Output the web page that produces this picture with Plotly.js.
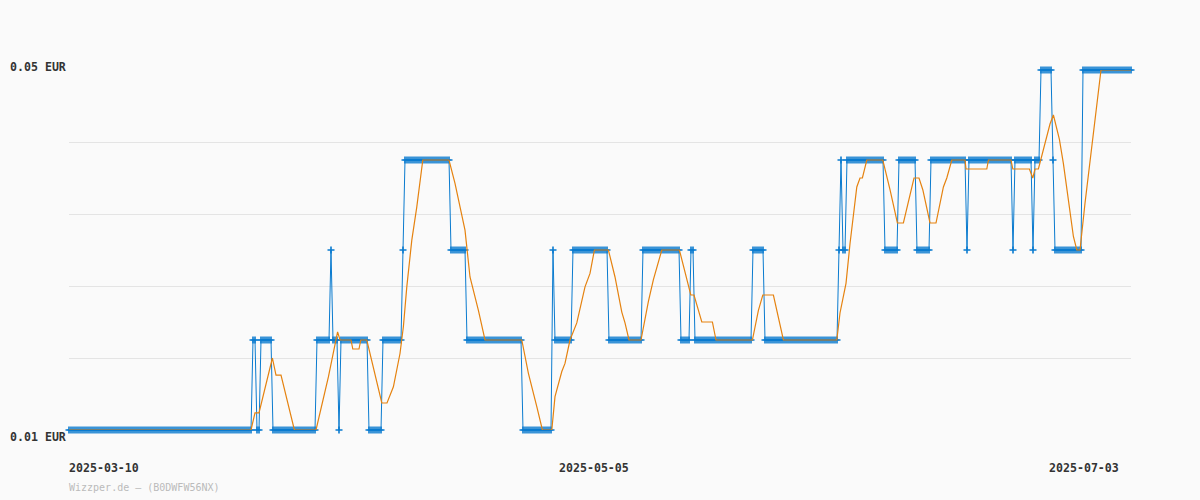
<!DOCTYPE html>
<html>
<head>
<meta charset="utf-8">
<script src="https://cdn.plot.ly/plotly-3.0.1.min.js"></script>
<style>
html,body{margin:0;padding:0;background:#fafafa;}
#chart{width:1200px;height:500px;}
</style>
</head>
<body>
<div id="chart"></div>
<script>
// Blue series: price per sample (EUR), one entry per sample index
const price = [
 // 0-91
 0.01,0.01,0.01,0.01,0.01,0.01,0.01,0.01,0.01,0.01,
 0.01,0.01,0.01,0.01,0.01,0.01,0.01,0.01,0.01,0.01,
 0.01,0.01,0.01,0.01,0.01,0.01,0.01,0.01,0.01,0.01,
 0.01,0.01,0.01,0.01,0.01,0.01,0.01,0.01,0.01,0.01,
 0.01,0.01,0.01,0.01,0.01,0.01,0.01,0.01,0.01,0.01,
 0.01,0.01,0.01,0.01,0.01,0.01,0.01,0.01,0.01,0.01,
 0.01,0.01,0.01,0.01,0.01,0.01,0.01,0.01,0.01,0.01,
 0.01,0.01,0.01,0.01,0.01,0.01,0.01,0.01,0.01,0.01,
 0.01,0.01,0.01,0.01,0.01,0.01,0.01,0.01,0.01,0.01,
 0.01,0.01,
 // 92-93
 0.02,0.02,
 // 94-95
 0.01,0.01,
 // 96-101
 0.02,0.02,0.02,0.02,0.02,0.02,
 // 102-123
 0.01,0.01,0.01,0.01,0.01,0.01,0.01,0.01,0.01,0.01,
 0.01,0.01,0.01,0.01,0.01,0.01,0.01,0.01,0.01,0.01,
 0.01,0.01,
 // 124-130
 0.02,0.02,0.02,0.02,0.02,0.02,0.02,
 // 131
 0.03,
 // 132-134
 0.02,0.02,0.02,
 // 135
 0.01,
 // 136-149
 0.02,0.02,0.02,0.02,0.02,0.02,0.02,0.02,0.02,0.02,
 0.02,0.02,0.02,0.02,
 // 150-156
 0.01,0.01,0.01,0.01,0.01,0.01,0.01,
 // 157-166
 0.02,0.02,0.02,0.02,0.02,0.02,0.02,0.02,0.02,0.02,
 // 167
 0.03,
 // 168-190
 0.04,0.04,0.04,0.04,0.04,0.04,0.04,0.04,0.04,0.04,
 0.04,0.04,0.04,0.04,0.04,0.04,0.04,0.04,0.04,0.04,
 0.04,0.04,0.04,
 // 191-198
 0.03,0.03,0.03,0.03,0.03,0.03,0.03,0.03,
 // 199-226
 0.02,0.02,0.02,0.02,0.02,0.02,0.02,0.02,0.02,0.02,
 0.02,0.02,0.02,0.02,0.02,0.02,0.02,0.02,0.02,0.02,
 0.02,0.02,0.02,0.02,0.02,0.02,0.02,0.02,
 // 227-241
 0.01,0.01,0.01,0.01,0.01,0.01,0.01,0.01,0.01,0.01,
 0.01,0.01,0.01,0.01,0.01,
 // 242
 0.03,
 // 243-251
 0.02,0.02,0.02,0.02,0.02,0.02,0.02,0.02,0.02,
 // 252-269
 0.03,0.03,0.03,0.03,0.03,0.03,0.03,0.03,0.03,0.03,
 0.03,0.03,0.03,0.03,0.03,0.03,0.03,0.03,
 // 270-286
 0.02,0.02,0.02,0.02,0.02,0.02,0.02,0.02,0.02,0.02,
 0.02,0.02,0.02,0.02,0.02,0.02,0.02,
 // 287-305
 0.03,0.03,0.03,0.03,0.03,0.03,0.03,0.03,0.03,0.03,
 0.03,0.03,0.03,0.03,0.03,0.03,0.03,0.03,0.03,
 // 306-310
 0.02,0.02,0.02,0.02,0.02,
 // 311-312
 0.03,0.03,
 // 313-341
 0.02,0.02,0.02,0.02,0.02,0.02,0.02,0.02,0.02,0.02,
 0.02,0.02,0.02,0.02,0.02,0.02,0.02,0.02,0.02,0.02,
 0.02,0.02,0.02,0.02,0.02,0.02,0.02,0.02,0.02,
 // 342-347
 0.03,0.03,0.03,0.03,0.03,0.03,
 // 348-384
 0.02,0.02,0.02,0.02,0.02,0.02,0.02,0.02,0.02,0.02,
 0.02,0.02,0.02,0.02,0.02,0.02,0.02,0.02,0.02,0.02,
 0.02,0.02,0.02,0.02,0.02,0.02,0.02,0.02,0.02,0.02,
 0.02,0.02,0.02,0.02,0.02,0.02,0.02,
 // 385
 0.03,
 // 386
 0.04,
 // 387-388
 0.03,0.03,
 // 389-407
 0.04,0.04,0.04,0.04,0.04,0.04,0.04,0.04,0.04,0.04,
 0.04,0.04,0.04,0.04,0.04,0.04,0.04,0.04,0.04,
 // 408-414
 0.03,0.03,0.03,0.03,0.03,0.03,0.03,
 // 415-423
 0.04,0.04,0.04,0.04,0.04,0.04,0.04,0.04,0.04,
 // 424-430
 0.03,0.03,0.03,0.03,0.03,0.03,0.03,
 // 431-448
 0.04,0.04,0.04,0.04,0.04,0.04,0.04,0.04,0.04,0.04,
 0.04,0.04,0.04,0.04,0.04,0.04,0.04,0.04,
 // 449
 0.03,
 // 450-471
 0.04,0.04,0.04,0.04,0.04,0.04,0.04,0.04,0.04,0.04,
 0.04,0.04,0.04,0.04,0.04,0.04,0.04,0.04,0.04,0.04,
 0.04,0.04,
 // 472
 0.03,
 // 473-481
 0.04,0.04,0.04,0.04,0.04,0.04,0.04,0.04,0.04,
 // 482
 0.03,
 // 483-485
 0.04,0.04,0.04,
 // 486-491
 0.05,0.05,0.05,0.05,0.05,0.05,
 // 492
 0.04,
 // 493-506
 0.03,0.03,0.03,0.03,0.03,0.03,0.03,0.03,0.03,0.03,
 0.03,0.03,0.03,0.03,
 // 507-531
 0.05,0.05,0.05,0.05,0.05,0.05,0.05,0.05,0.05,0.05,
 0.05,0.05,0.05,0.05,0.05,0.05,0.05,0.05,0.05,0.05,
 0.05,0.05,0.05,0.05,0.05
];

// Orange series: moving average, vertices (sample index, EUR)
const avgIdx = [0,91,93,95,101.7,103.5,106,112.7,123.5,129.7,134.3,135.5,141,141.9,145,145.9,148.9,156.4,159,162.2,165.5,167.2,168.9,171.4,173.9,176.9,190,193,198,200.5,204.7,208,226.4,229.7,233.9,236.7,241.4,243,246.4,248,250.5,252.2,253.9,258,260.5,262.7,269.7,273,276.4,278,280,286,289.7,292.2,296.4,305.2,308.4,310.9,312.5,316.4,321.7,323.5,341.7,344.7,346.9,352.2,357.2,383.9,385.5,388.5,390.5,393.9,395.5,396.7,398.9,406.9,410.5,414.2,417.2,419.7,422.5,425,426.9,430.5,433.5,437.2,438.9,441.4,448,448.5,458.9,459.7,471,471.9,480.2,481.9,483,484.7,488,490.5,492.2,495.2,497.2,500.2,502.2,503.9,505.5,508,511.4,513.9,516,531];
const avgValue = [0.01,0.01,0.0119,0.0119,0.018,0.0161,0.0161,0.01,0.01,0.0159,0.0209,0.02,0.02,0.019,0.019,0.02,0.02,0.013,0.013,0.0148,0.0185,0.0215,0.0259,0.0311,0.0348,0.04,0.04,0.0374,0.0322,0.027,0.0233,0.02,0.02,0.0163,0.0126,0.01,0.01,0.0137,0.0165,0.0174,0.02,0.0209,0.0219,0.0259,0.0274,0.03,0.03,0.027,0.0231,0.0219,0.02,0.02,0.0243,0.0267,0.03,0.03,0.027,0.025,0.025,0.022,0.022,0.02,0.02,0.0233,0.025,0.025,0.02,0.02,0.023,0.0263,0.0307,0.037,0.038,0.038,0.04,0.04,0.0367,0.033,0.033,0.0354,0.038,0.038,0.0367,0.033,0.033,0.037,0.038,0.04,0.04,0.039,0.039,0.04,0.04,0.039,0.039,0.038,0.039,0.039,0.0419,0.044,0.045,0.0423,0.0396,0.0344,0.0315,0.03,0.03,0.0352,0.0417,0.0459,0.05,0.05];

const tickIdx = [0, 245, 490];
const tickLabels = ['2025-03-10', '2025-05-05', '2025-07-03'];
const gridVals = [0.01, 0.018, 0.026, 0.034, 0.042, 0.05];
const yLabelVals = [0.05, 0.01];
const yLabels = ['0.05 EUR', '0.01 EUR'];
const sourceText = 'Wizzper.de – (B0DWFW56NX)';

const idx = price.map((_, i) => i);

const BLUE = '#0a7bcf';
const ORANGE = '#e5820f';
const mono = '"DejaVu Sans Mono", "Liberation Mono", monospace';

const traces = [
  {
    x: idx, y: price, type: 'scatter', mode: 'lines+markers',
    line: {color: BLUE, width: 1},
    marker: {symbol: 'cross-thin', size: 5, color: BLUE, line: {color: BLUE, width: 1.6}},
    cliponaxis: false, hoverinfo: 'skip'
  },
  {
    x: avgIdx, y: avgValue, type: 'scatter', mode: 'lines',
    line: {color: ORANGE, width: 1.2},
    cliponaxis: false, hoverinfo: 'skip'
  }
];

const annotations = [];
yLabelVals.forEach((v, k) => {
  annotations.push({
    xref: 'paper', yref: 'y', x: 0, y: v, xanchor: 'right', yanchor: 'middle',
    xshift: -1, yshift: v === 0.05 ? 3 : -7,
    text: yLabels[k], showarrow: false,
    font: {family: mono, size: 11.6, color: '#333333', weight: 'bold'}
  });
});
tickIdx.forEach((v, k) => {
  annotations.push({
    xref: 'x', yref: 'paper', x: v, y: 0, xanchor: 'left', yanchor: 'middle',
    xshift: -2, yshift: -38,
    text: tickLabels[k], showarrow: false,
    font: {family: mono, size: 11.6, color: '#333333', weight: 'bold'}
  });
});
annotations.push({
  xref: 'paper', yref: 'paper', x: 0, y: 0, xanchor: 'left', yanchor: 'middle',
  xshift: -2, yshift: -57,
  text: sourceText, showarrow: false,
  font: {family: mono, size: 10, color: '#bbbbbb'}
});

const layout = {
  width: 1200, height: 500,
  margin: {l: 69, r: 69, t: 70, b: 70, pad: 0},
  paper_bgcolor: '#fafafa', plot_bgcolor: '#fafafa',
  showlegend: false,
  xaxis: {range: [0, 531], showgrid: false, zeroline: false, showline: false,
          showticklabels: false, ticks: ''},
  yaxis: {range: [0.01, 0.05], tickvals: gridVals, showticklabels: false,
          gridcolor: '#e4e4e4', gridwidth: 1, zeroline: false, showline: false, ticks: ''},
  annotations: annotations
};

Plotly.newPlot('chart', traces, layout, {staticPlot: true, displayModeBar: false});
</script>
</body>
</html>
